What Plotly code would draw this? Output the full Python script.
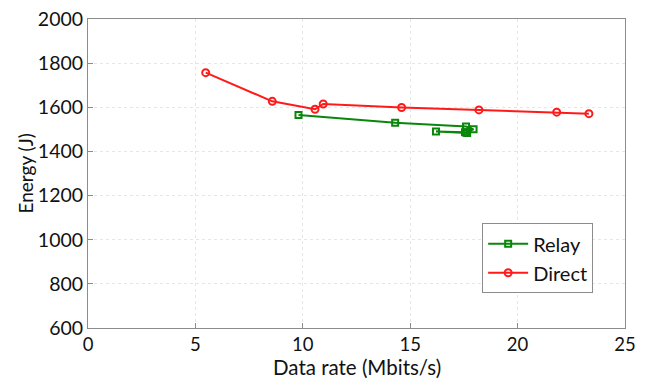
import plotly.graph_objects as go

relay_x = [9.8, 14.3, 17.6, 17.95, 17.6, 16.2, 17.55, 17.65]
relay_y = [1565, 1530, 1513, 1500, 1487, 1490, 1487, 1484]
direct_x = [5.48, 8.58, 10.57, 10.95, 14.6, 18.2, 21.82, 23.32]
direct_y = [1757, 1627, 1591, 1615, 1599, 1588, 1578, 1571]

x_ticks = [0, 5, 10, 15, 20, 25]
y_ticks = [600, 800, 1000, 1200, 1400, 1600, 1800, 2000]
x_title = "Data rate (Mbits/s)"
y_title = "Energy (J)"

fig = go.Figure()
fig.add_trace(go.Scatter(x=relay_x, y=relay_y, mode="lines+markers", name="Relay",
                         line=dict(color="#0a870a", width=2),
                         marker=dict(symbol="square-open", size=6, color="#0a870a", line=dict(width=2))))
fig.add_trace(go.Scatter(x=direct_x, y=direct_y, mode="lines+markers", name="Direct",
                         line=dict(color="#ff1a1a", width=2),
                         marker=dict(symbol="circle-open", size=7, color="#ff1a1a", line=dict(width=2))))

axis_common = dict(showline=True, linecolor="#8c8c8c", linewidth=1, mirror=True,
                   ticks="inside", ticklen=5, tickcolor="#8c8c8c",
                   showgrid=True, gridcolor="#e6e6e6", gridwidth=1, griddash="dot",
                   zeroline=False, automargin=False)

fig.update_xaxes(range=[0, 25], tickvals=x_ticks, ticklabelstandoff=0,
                 tickfont=dict(size=18.5, color="#111"), **axis_common)
fig.update_yaxes(range=[600, 2000], tickvals=y_ticks,
                 tickfont=dict(size=19.5, color="#111"), **axis_common)

fig.add_annotation(text=x_title, xref="paper", yref="paper", x=0.5, y=0,
                   xanchor="center", yanchor="bottom", yshift=-52, showarrow=False,
                   borderpad=0, font=dict(size=20.5, color="#111"))
fig.add_annotation(text=y_title, xref="paper", yref="paper", x=0, y=0.5,
                   xanchor="center", yanchor="middle", xshift=-63, textangle=-90,
                   showarrow=False, borderpad=0, font=dict(size=19, color="#111"))

fig.update_layout(
    width=646, height=381,
    margin=dict(l=88, r=21, t=19, b=53),
    paper_bgcolor="white", plot_bgcolor="white",
    font=dict(family="Lato, Open Sans, sans-serif", size=19, color="#111"),
    showlegend=True,
    legend=dict(x=0.734, y=0.339, xanchor="left", yanchor="top",
                bordercolor="#8c8c8c", borderwidth=1, bgcolor="white",
                font=dict(size=20), itemwidth=40, tracegroupgap=6),
)

fig.write_html("out.html")
